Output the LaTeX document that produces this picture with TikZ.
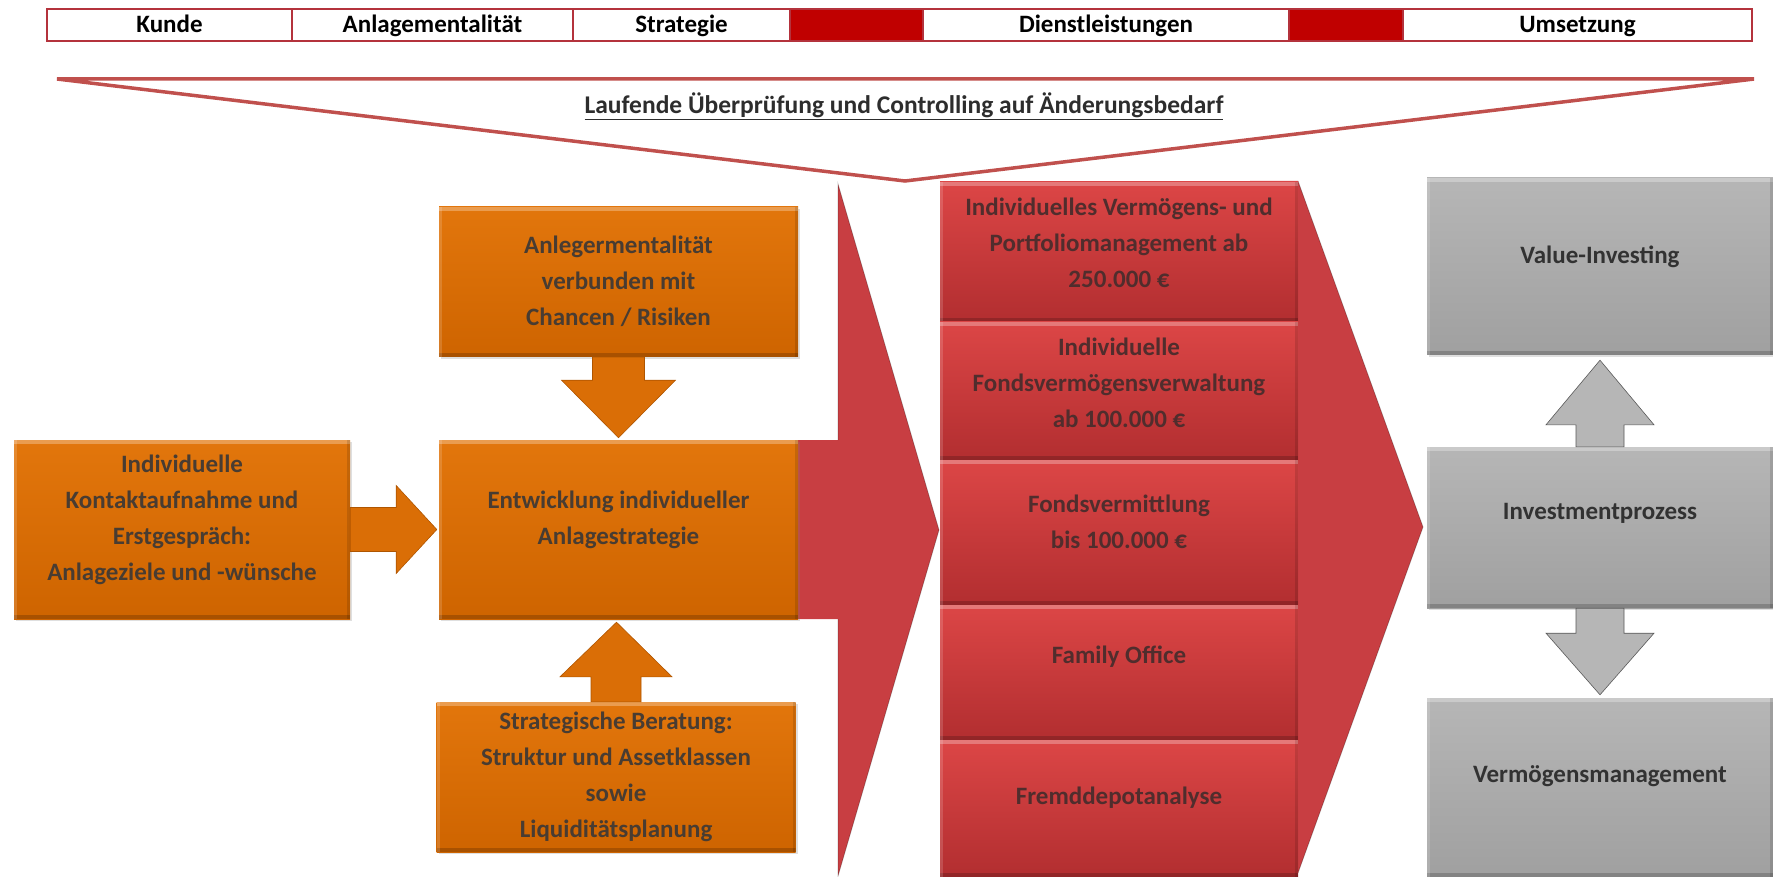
\documentclass[tikz,border=0pt]{standalone}
\usepackage{fontspec}
\usepackage{graphicx}
\setmainfont{Carlito}
\usetikzlibrary{calc,shadows}
\definecolor{hdrred}{RGB}{192,0,0}
\definecolor{hdrline}{RGB}{180,50,60}
\definecolor{funnel}{RGB}{192,80,77}
\definecolor{orgTop}{RGB}{226,118,12}
\definecolor{orgBot}{RGB}{206,100,0}
\definecolor{orgArr}{RGB}{218,110,6}
\definecolor{redTop}{RGB}{220,70,70}
\definecolor{redBot}{RGB}{178,46,48}
\definecolor{chev}{RGB}{200,62,66}
\definecolor{grayTop}{RGB}{182,182,182}
\definecolor{grayBot}{RGB}{160,160,160}
\definecolor{grayArr}{RGB}{182,182,182}
\definecolor{txtO}{RGB}{72,60,50}
\definecolor{txtR}{RGB}{80,45,45}
\definecolor{txtG}{RGB}{50,50,50}
\begin{document}
\begin{tikzpicture}[x=1pt,y=-1pt,
  hcell/.style={draw=hdrline,line width=1.2pt,minimum height=32pt,inner sep=0pt,
    text height=18pt,text depth=2pt,
    font=\fontsize{25}{28}\selectfont\bfseries,text=black},
  redcell/.style={hcell,fill=hdrred},
  bevel/.style={path picture={
      \fill[white,opacity=0.28] (path picture bounding box.north west) rectangle ([yshift=-4pt]path picture bounding box.north east);
      \fill[black,opacity=0.18] (path picture bounding box.south west) rectangle ([yshift=4pt]path picture bounding box.south east);
      \fill[white,opacity=0.15] (path picture bounding box.north west) rectangle ([xshift=3pt]path picture bounding box.south west);
      \fill[black,opacity=0.12] (path picture bounding box.north east) rectangle ([xshift=-3pt]path picture bounding box.south east);}},
  obox/.style={top color=orgTop,bottom color=orgBot,inner sep=0pt,bevel,
    drop shadow={opacity=0.25,shadow xshift=2pt,shadow yshift=-2pt}},
  rbox/.style={top color=redTop,bottom color=redBot,inner sep=0pt,bevel},
  gbox/.style={top color=grayTop,bottom color=grayBot,inner sep=0pt,bevel,
    drop shadow={opacity=0.25,shadow xshift=2pt,shadow yshift=-2pt}},
  btxt/.style={align=center,font=\fontsize{25}{36}\selectfont\bfseries},
  oarrow/.style={fill=orgArr,draw=orgBot!85!black,line width=0.6pt},
  garrow/.style={fill=grayArr,draw=gray!70!black,line width=0.6pt},
]
\useasboundingbox (0,0) rectangle (1773,877);

% ---------- header ----------
\node[hcell,minimum width=245pt] (h1) at (169.5,25) {Kunde};
\node[hcell,minimum width=281pt] (h2) at (432.5,25) {Anlagementalität};
\node[hcell,minimum width=217pt] (h3) at (681.5,25) {Strategie};
\node[redcell,minimum width=133pt] (r1) at (856.5,25) {};
\node[hcell,minimum width=366pt] (h4) at (1106,25) {Dienstleistungen};
\node[redcell,minimum width=114pt] (r2) at (1346,25) {};
\node[hcell,minimum width=349pt] (h5) at (1577.5,25) {Umsetzung};

% ---------- funnel ----------
\coordinate (fl) at (57,79);
\coordinate (fr) at (1754,79);
\coordinate (fa) at (905,181);
\draw[funnel,line width=3.5pt,line join=miter] (fl) -- (fr) -- (fa) -- cycle;
\node[font=\fontsize{25.5}{30}\selectfont\bfseries,text=txtG!90!black] (lauf) at (904,106)
  {\underline{Laufende Überprüfung und Controlling auf Änderungsbedarf}};

% ---------- big red chevrons ----------
\fill[chev] (1250,181) -- (1298,181) -- (1423,527) -- (1298,873) -- (1250,873) -- cycle;
\fill[chev] (790,440) -- (838,440) -- (838,184) -- (939,530) -- (838,876) -- (838,619) -- (790,619) -- cycle;
\draw[black,opacity=0.25,line width=0.8pt] (838,440) -- (838,184) -- (939,530) -- (838,876) -- (838,619);
\draw[black,opacity=0.25,line width=0.8pt] (1298,181) -- (1423,527) -- (1298,873);

% ---------- service column ----------
\node[rbox,minimum width=358pt,minimum height=140pt] (c1) at (1119,252) {};
\node[rbox,minimum width=358pt,minimum height=138pt] (c2) at (1119,391) {};
\node[rbox,minimum width=358pt,minimum height=145pt] (c3) at (1119,532.5) {};
\node[rbox,minimum width=358pt,minimum height=135pt] (c4) at (1119,672.5) {};
\node[rbox,minimum width=358pt,minimum height=137pt] (c5) at (1119,808.5) {};
\node[btxt,text=txtR] at ([yshift=9pt]c1.center) {Individuelles Vermögens- und\\Portfoliomanagement ab\\250.000 €};
\node[btxt,text=txtR] at ([yshift=8pt]c2.center) {Individuelle\\Fondsvermögensverwaltung\\ab 100.000 €};
\node[btxt,text=txtR] at ([yshift=11pt]c3.center) {Fondsvermittlung\\bis 100.000 €};
\node[btxt,text=txtR] at ([yshift=16pt]c4.center) {Family Office};
\node[btxt,text=txtR] at ([yshift=11pt]c5.center) {Fremddepotanalyse};

% ---------- orange boxes ----------
\node[obox,minimum width=359pt,minimum height=150pt] (anl) at (618.5,282) {};
\node[obox,minimum width=336pt,minimum height=179pt] (kon) at (182,529.5) {};
\node[obox,minimum width=359pt,minimum height=179pt] (ent) at (618.5,529.5) {};
\node[obox,minimum width=359pt,minimum height=150pt] (ber) at (616,777) {};
\node[btxt,text=txtO] at ([yshift=1pt]anl.center) {Anlegermentalität\\verbunden mit\\Chancen / Risiken};
\node[btxt,text=txtO] at ([yshift=10pt]kon.center) {Individuelle\\Kontaktaufnahme und\\Erstgespräch:\\Anlageziele und -wünsche};
\node[btxt,text=txtO] at ([yshift=10pt]ent.center) {Entwicklung individueller\\Anlagestrategie};
\node[btxt,text=txtO] at ([yshift=0pt]ber.center) {Strategische Beratung:\\Struktur und Assetklassen\\sowie\\Liquiditätsplanung};

% orange block arrows
\filldraw[oarrow] ($(anl.south)+(-26,0)$) -- ($(anl.south)+(26,0)$) -- ($(anl.south)+(26,23)$)
  -- ($(anl.south)+(57,23)$) -- ($(ent.north)+(0,-2)$) -- ($(anl.south)+(-57,23)$)
  -- ($(anl.south)+(-26,23)$) -- cycle;
\filldraw[oarrow] ($(kon.east)+(0,-22)$) -- ($(kon.east)+(46,-22)$) -- ($(kon.east)+(46,-44)$)
  -- ($(ent.west)+(-2,0)$) -- ($(kon.east)+(46,44)$) -- ($(kon.east)+(46,22)$)
  -- ($(kon.east)+(0,22)$) -- cycle;
\filldraw[oarrow] ($(ber.north)+(-25,0)$) -- ($(ber.north)+(25,0)$) -- ($(ber.north)+(25,-25)$)
  -- ($(ber.north)+(56,-25)$) -- ($(ent.south)+(-2,3)$) -- ($(ber.north)+(-56,-25)$)
  -- ($(ber.north)+(-25,-25)$) -- cycle;

% ---------- gray boxes ----------
\node[gbox,minimum width=346pt,minimum height=177pt] (g1) at (1600,266.5) {};
\node[gbox,minimum width=346pt,minimum height=161pt] (g2) at (1600,527.5) {};
\node[gbox,minimum width=346pt,minimum height=179pt] (g3) at (1600,787.5) {};
\node[btxt,text=txtG] at ([yshift=10pt]g1.center) {Value-Investing};
\node[btxt,text=txtG] at ([yshift=14pt]g2.center) {Investmentprozess};
\node[btxt,text=txtG] at ([yshift=11pt]g3.center) {Vermögensmanagement};

\filldraw[garrow] ($(g2.north)+(-24,0)$) -- ($(g2.north)+(24,0)$) -- ($(g2.north)+(24,-22)$)
  -- ($(g2.north)+(54,-22)$) -- ($(g1.south)+(0,5)$) -- ($(g2.north)+(-54,-22)$)
  -- ($(g2.north)+(-24,-22)$) -- cycle;
\filldraw[garrow] ($(g2.south)+(-24,0)$) -- ($(g2.south)+(24,0)$) -- ($(g2.south)+(24,25)$)
  -- ($(g2.south)+(54,25)$) -- ($(g3.north)+(0,-3)$) -- ($(g2.south)+(-54,25)$)
  -- ($(g2.south)+(-24,25)$) -- cycle;
\end{tikzpicture}
\end{document}
